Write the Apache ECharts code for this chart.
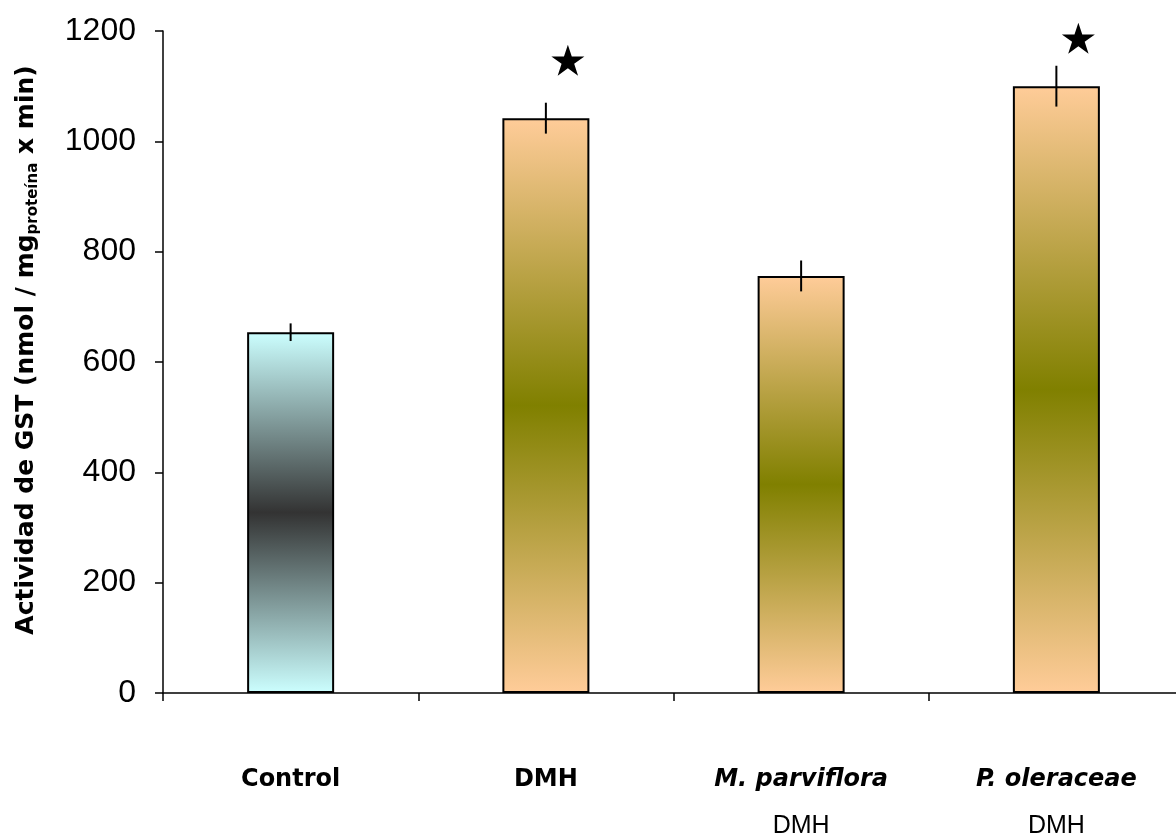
<!DOCTYPE html>
<html><head><meta charset="utf-8">
<script src="https://cdn.jsdelivr.net/npm/echarts@6/dist/echarts.min.js"></script>
<style>html,body{margin:0;padding:0;background:#fff}#c{width:1176px;height:836px}</style>
</head><body><div id="c"></div>
<script>
const categories = ['Control', 'DMH', 'M. parviflora|DMH', 'P. oleraceae|DMH'];
const values = [654, 1042, 756, 1100];
const errors = [16, 28, 28, 37];
const stars = [null, 1147, null, 1187];
const yTicks = [0, 200, 400, 600, 800, 1000, 1200];

const gradCyan = new echarts.graphic.LinearGradient(0,0,0,1,[
  {offset:0,color:'#ccffff'},{offset:0.5,color:'#333333'},{offset:1,color:'#ccffff'}]);
const gradOrange = new echarts.graphic.LinearGradient(0,0,0,1,[
  {offset:0,color:'#ffcc99'},{offset:0.5,color:'#808000'},{offset:1,color:'#ffcc99'}]);

const chart = echarts.init(document.getElementById('c'));
chart.setOption({
  animation:false,
  backgroundColor:'#fff',
  grid:{left:163, top:31, bottom:143, right:-8, containLabel:false, outerBoundsMode:'none'},
  xAxis:{
    type:'category', data:categories,
    axisLine:{lineStyle:{color:'#000',width:1.5}},
    axisTick:{show:true,length:8,lineStyle:{color:'#000',width:1.5}},
    axisLabel:{
      margin:64, interval:0,
      formatter:function(v){
        const p=v.split('|');
        if(p.length===1) return '{b|'+p[0]+'}\n{e| }';
        return '{i|'+p[0]+'}\n{r|'+p[1]+'}';
      },
      rich:{
        b:{fontFamily:'DejaVu Sans',fontWeight:'bold',fontSize:24,color:'#000',lineHeight:46},
        i:{fontFamily:'DejaVu Sans',fontWeight:'bold',fontStyle:'italic',fontSize:24,color:'#000',lineHeight:46},
        r:{fontFamily:'Liberation Sans, Arial',fontSize:25,color:'#000',lineHeight:46},
        e:{fontSize:24,lineHeight:46}
      }
    }
  },
  yAxis:{
    type:'value', min:0, max:1200, interval:200,
    axisLine:{show:true,lineStyle:{color:'#000',width:1.5}},
    axisTick:{show:true,length:8,lineStyle:{color:'#000',width:1.5}},
    splitLine:{show:false},
    axisLabel:{margin:27,fontFamily:'Liberation Sans, Arial',fontSize:32,color:'#000',
      formatter:function(v){return yTicks.indexOf(v)>=0?String(v):'';}},
    name:'{m|Actividad de GST (nmol / mg}{s|proteína}{m| x min)}',
    nameLocation:'middle', nameRotate:90, nameGap:122,
    nameTextStyle:{
      padding:[0,0,0,24],
      rich:{
        m:{fontFamily:'DejaVu Sans',fontWeight:'bold',fontSize:25,color:'#000',lineHeight:30,verticalAlign:'middle'},
        s:{fontFamily:'DejaVu Sans',fontWeight:'bold',fontSize:15,color:'#000',lineHeight:30,verticalAlign:'bottom'}
      }
    }
  },
  series:[
    {
      type:'bar', barWidth:87,
      data: values.map((v,i)=>({value:v,itemStyle:{color: i===0?gradCyan:gradOrange}})),
      itemStyle:{borderColor:'#000',borderWidth:2}
    },
    {
      type:'custom', z:10,
      data: values.map((v,i)=>[i,v,errors[i]]),
      renderItem:function(params,api){
        const x=api.value(0), v=api.value(1), e=api.value(2);
        const p1=api.coord([x,v+e]), p2=api.coord([x,v-e]);
        return {type:'line',shape:{x1:p1[0],y1:p1[1],x2:p2[0],y2:p2[1]},style:{stroke:'#000',lineWidth:2}};
      }
    },
    {
      type:'scatter', z:11,
      symbol:'path://M50,0 L61.8,35.3 L100,35.3 L69.1,57.1 L80.9,92.7 L50,70.5 L19.1,92.7 L30.9,57.1 L0,35.3 L38.2,35.3 Z',
      symbolSize:[33,31], symbolOffset:[22,0],
      itemStyle:{color:'#000',opacity:1},
      data: stars
    }
  ]
});
</script></body></html>
